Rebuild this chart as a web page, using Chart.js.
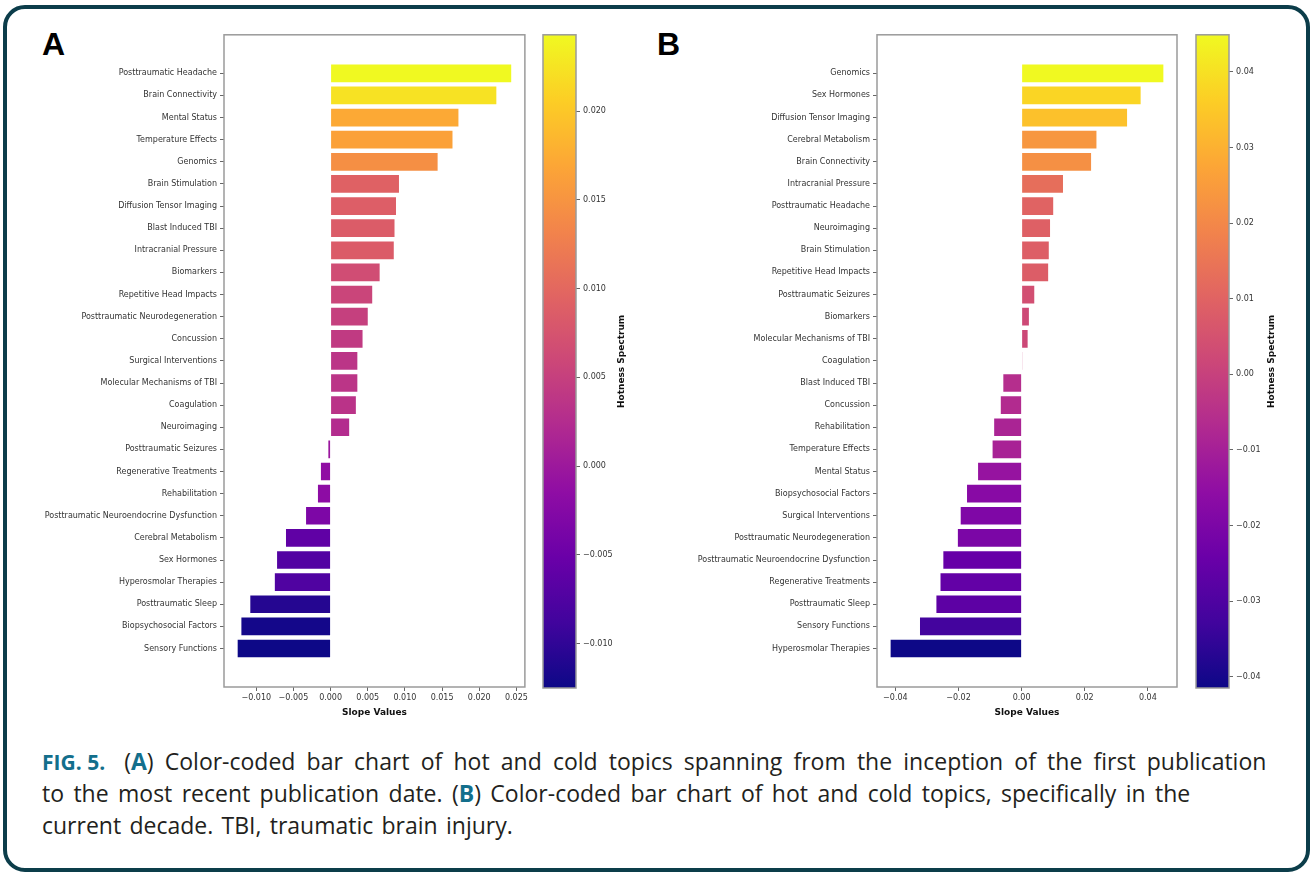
<!DOCTYPE html>
<html>
<head>
<meta charset="utf-8">
<script src="https://cdn.jsdelivr.net/npm/chart.js@4.4.1/dist/chart.umd.min.js"></script>
<style>
html, body { margin: 0; padding: 0; background: #fff; }
body { width: 1310px; height: 872px; position: relative; overflow: hidden; }
.frame { position: absolute; left: 3px; top: 5px; width: 1307px; height: 867px; box-sizing: border-box;
         border: 4px solid #0c3d4a; border-radius: 22px; }
canvas { position: absolute; }
.panel { position: absolute; font-family: "Liberation Sans", Arial, sans-serif; font-weight: bold;
         font-size: 32px; line-height: 32px; color: #000; }
.cap { position: absolute; left: 42px; font-family: "Open Sans", sans-serif; font-size: 23px;
       line-height: 32px; word-spacing: 3px; color: #231f20; white-space: nowrap; }
.cap b { color: #136f8c; }
.cap .fig { font-size: 21px; word-spacing: 0; margin-right: 19px; }
</style>
</head>
<body>
<div class="frame"></div>
<div class="panel" style="left:42px; top:28px;">A</div>
<div class="panel" style="left:657px; top:28px;">B</div>

<canvas id="barsA" width="510" height="703" style="left:20px; top:27px;"></canvas>
<canvas id="cbarA" width="112" height="673" style="left:535px; top:27px;"></canvas>
<canvas id="barsB" width="509" height="703" style="left:673px; top:27px;"></canvas>
<canvas id="cbarB" width="112" height="673" style="left:1188px; top:27px;"></canvas>

<div class="cap" style="top:745px; word-spacing:5.2px;"><b class="fig">FIG. 5.</b>(<b>A</b>) Color-coded bar chart of hot and cold topics spanning from the inception of the first publication</div>
<div class="cap" style="top:777px; word-spacing:3.4px;">to the most recent publication date. (<b>B</b>) Color-coded bar chart of hot and cold topics, specifically in the</div>
<div class="cap" style="top:809px; word-spacing:2.3px;">current decade. TBI, traumatic brain injury.</div>

<script>
// panel A: whole period
var labelsA = [
  'Posttraumatic Headache', 'Brain Connectivity', 'Mental Status', 'Temperature Effects', 'Genomics',
  'Brain Stimulation', 'Diffusion Tensor Imaging', 'Blast Induced TBI', 'Intracranial Pressure', 'Biomarkers',
  'Repetitive Head Impacts', 'Posttraumatic Neurodegeneration', 'Concussion', 'Surgical Interventions',
  'Molecular Mechanisms of TBI', 'Coagulation', 'Neuroimaging', 'Posttraumatic Seizures', 'Regenerative Treatments',
  'Rehabilitation', 'Posttraumatic Neuroendocrine Dysfunction', 'Cerebral Metabolism', 'Sex Hormones',
  'Hyperosmolar Therapies', 'Posttraumatic Sleep', 'Biopsychosocial Factors', 'Sensory Functions'
];
var valuesA = [
  0.0243, 0.0223, 0.0172, 0.0164, 0.0144, 0.0092, 0.0088, 0.0086, 0.0085, 0.0066,
  0.0056, 0.0050, 0.0043, 0.0036, 0.0036, 0.0034, 0.0025, -0.0003, -0.0013, -0.0017,
  -0.0033, -0.0060, -0.0072, -0.0075, -0.0108, -0.0120, -0.0125
];
var xTicksA = [-0.010, -0.005, 0.000, 0.005, 0.010, 0.015, 0.020, 0.025];
var cbTicksA = [-0.010, -0.005, 0.000, 0.005, 0.010, 0.015, 0.020];

// panel B: current decade
var labelsB = [
  'Genomics', 'Sex Hormones', 'Diffusion Tensor Imaging', 'Cerebral Metabolism', 'Brain Connectivity',
  'Intracranial Pressure', 'Posttraumatic Headache', 'Neuroimaging', 'Brain Stimulation', 'Repetitive Head Impacts',
  'Posttraumatic Seizures', 'Biomarkers', 'Molecular Mechanisms of TBI', 'Coagulation', 'Blast Induced TBI',
  'Concussion', 'Rehabilitation', 'Temperature Effects', 'Mental Status', 'Biopsychosocial Factors',
  'Surgical Interventions', 'Posttraumatic Neurodegeneration', 'Posttraumatic Neuroendocrine Dysfunction',
  'Regenerative Treatments', 'Posttraumatic Sleep', 'Sensory Functions', 'Hyperosmolar Therapies'
];
var valuesB = [
  0.0449, 0.0377, 0.0334, 0.0237, 0.0220, 0.0131, 0.0100, 0.0090, 0.0086, 0.0084,
  0.0040, 0.0023, 0.0019, 0.0002, -0.0058, -0.0066, -0.0087, -0.0092, -0.0138, -0.0173,
  -0.0193, -0.0202, -0.0248, -0.0257, -0.0270, -0.0322, -0.0415
];
var xTicksB = [-0.04, -0.02, 0.00, 0.02, 0.04];
var cbTicksB = [-0.04, -0.03, -0.02, -0.01, 0.00, 0.01, 0.02, 0.03, 0.04];

var FONT = '"DejaVu Sans", sans-serif';
var plasmaStops = ['#0d0887', '#41049d', '#6a00a8', '#8f0da4', '#b12a90', '#cc4778',
                   '#e16462', '#f2844b', '#fca636', '#fcce25', '#f0f921'];

function hexRgb(h) {
  return [parseInt(h.substr(1, 2), 16), parseInt(h.substr(3, 2), 16), parseInt(h.substr(5, 2), 16)];
}
function plasma(t) {
  t = Math.max(0, Math.min(1, t));
  var p = t * 10, i = Math.min(9, Math.floor(p)), f = p - i;
  var a = hexRgb(plasmaStops[i]), b = hexRgb(plasmaStops[i + 1]);
  var c = a.map(function (v, k) { return Math.round(v + (b[k] - v) * f); });
  return 'rgb(' + c.join(',') + ')';
}
function fmt(v, dec) {
  if (Math.abs(v) < 1e-12) v = 0;
  return (v < 0 ? '\u2212' : '') + Math.abs(v).toFixed(dec);
}

var framePlugin = {
  id: 'frame',
  afterDraw: function (chart) {
    var ca = chart.chartArea, ctx = chart.ctx;
    ctx.save();
    ctx.strokeStyle = '#9a9a9a';
    ctx.lineWidth = 1.5;
    ctx.strokeRect(ca.left, ca.top, ca.right - ca.left, ca.bottom - ca.top);
    ctx.restore();
  }
};

function makeBars(id, labels, values, xTicks, dec) {
  var lo = Math.min.apply(null, values), hi = Math.max.apply(null, values);
  var pad = (hi - lo) * 0.05;
  var n = labels.length;
  var ypad = (n - 1 + 0.8) * 0.05;
  return new Chart(document.getElementById(id), {
    type: 'bar',
    data: {
      datasets: [{
        data: values.map(function (v, i) { return { x: v, y: i }; }),
        backgroundColor: values.map(function (v) { return plasma((v - lo) / (hi - lo)); }),
        categoryPercentage: 0.8,
        barPercentage: 1.0
      }]
    },
    options: {
      indexAxis: 'y',
      animation: false,
      responsive: false,
      layout: { padding: { top: 0, right: 5, left: 0, bottom: 0 } },
      plugins: { legend: { display: false }, tooltip: { enabled: false } },
      scales: {
        y: {
          type: 'linear',
          reverse: true,
          offset: false,
          min: -0.4 - ypad,
          max: n - 1 + 0.4 + ypad,
          afterBuildTicks: function (s) { s.ticks = labels.map(function (_, i) { return { value: i }; }); },
          afterFit: function (s) { s.width = 204; },
          ticks: {
            autoSkip: false,
            padding: 3,
            color: '#333',
            font: { family: FONT, size: 8 },
            callback: function (v) { return labels[v]; }
          },
          grid: { display: true, drawOnChartArea: false, offset: false, tickLength: 4, color: '#666' },
          border: { display: false }
        },
        x: {
          type: 'linear',
          min: lo - pad,
          max: hi + pad,
          afterBuildTicks: function (s) { s.ticks = xTicks.map(function (v) { return { value: v }; }); },
          afterFit: function (s) { s.height = 43; },
          ticks: {
            autoSkip: false,
            maxRotation: 0,
            padding: 2,
            color: '#333',
            font: { family: FONT, size: 8 },
            callback: function (v) { return fmt(v, dec); }
          },
          grid: { display: true, drawOnChartArea: false, tickLength: 4, color: '#666' },
          border: { display: false },
          title: {
            display: true,
            text: 'Slope Values',
            color: '#111',
            font: { family: FONT, size: 9, weight: 'bold' },
            padding: { top: 0, bottom: 12 }
          }
        }
      }
    },
    plugins: [framePlugin]
  });
}

function makeColorbar(id, values, cbTicks, dec, titleOffset) {
  var lo = Math.min.apply(null, values), hi = Math.max.apply(null, values);
  var titlePlugin = {
    id: 'cbTitle',
    afterDraw: function (chart) {
      var ca = chart.chartArea, ctx = chart.ctx;
      ctx.save();
      ctx.translate(ca.right + titleOffset, (ca.top + ca.bottom) / 2);
      ctx.rotate(-Math.PI / 2);
      ctx.font = 'bold 9px ' + FONT;
      ctx.fillStyle = '#111';
      ctx.textAlign = 'center';
      ctx.textBaseline = 'middle';
      ctx.fillText('Hotness Spectrum', 0, 0);
      ctx.restore();
    }
  };
  return new Chart(document.getElementById(id), {
    type: 'bar',
    data: {
      labels: [''],
      datasets: [{
        data: [[lo, hi]],
        categoryPercentage: 1,
        barPercentage: 1,
        borderSkipped: false,
        backgroundColor: function (c) {
          var ca = c.chart.chartArea;
          if (!ca) return plasmaStops[5];
          var g = c.chart.ctx.createLinearGradient(0, ca.bottom, 0, ca.top);
          plasmaStops.forEach(function (col, i) { g.addColorStop(i / 10, col); });
          return g;
        }
      }]
    },
    options: {
      animation: false,
      responsive: false,
      layout: { padding: { top: 0, right: 0, left: 8, bottom: 12 } },
      plugins: { legend: { display: false }, tooltip: { enabled: false } },
      scales: {
        x: { display: false },
        y: {
          position: 'right',
          min: lo,
          max: hi,
          afterBuildTicks: function (s) { s.ticks = cbTicks.map(function (v) { return { value: v }; }); },
          afterFit: function (s) { s.width = 71; },
          ticks: {
            autoSkip: false,
            padding: 3,
            color: '#333',
            font: { family: FONT, size: 8 },
            callback: function (v) { return fmt(v, dec); }
          },
          grid: { display: true, drawOnChartArea: false, tickLength: 4, color: '#666' },
          border: { display: false }
        }
      }
    },
    plugins: [framePlugin, titlePlugin]
  });
}

makeBars('barsA', labelsA, valuesA, xTicksA, 3);
makeColorbar('cbarA', valuesA, cbTicksA, 3, 46);
makeBars('barsB', labelsB, valuesB, xTicksB, 2);
makeColorbar('cbarB', valuesB, cbTicksB, 2, 43);
</script>
</body>
</html>
